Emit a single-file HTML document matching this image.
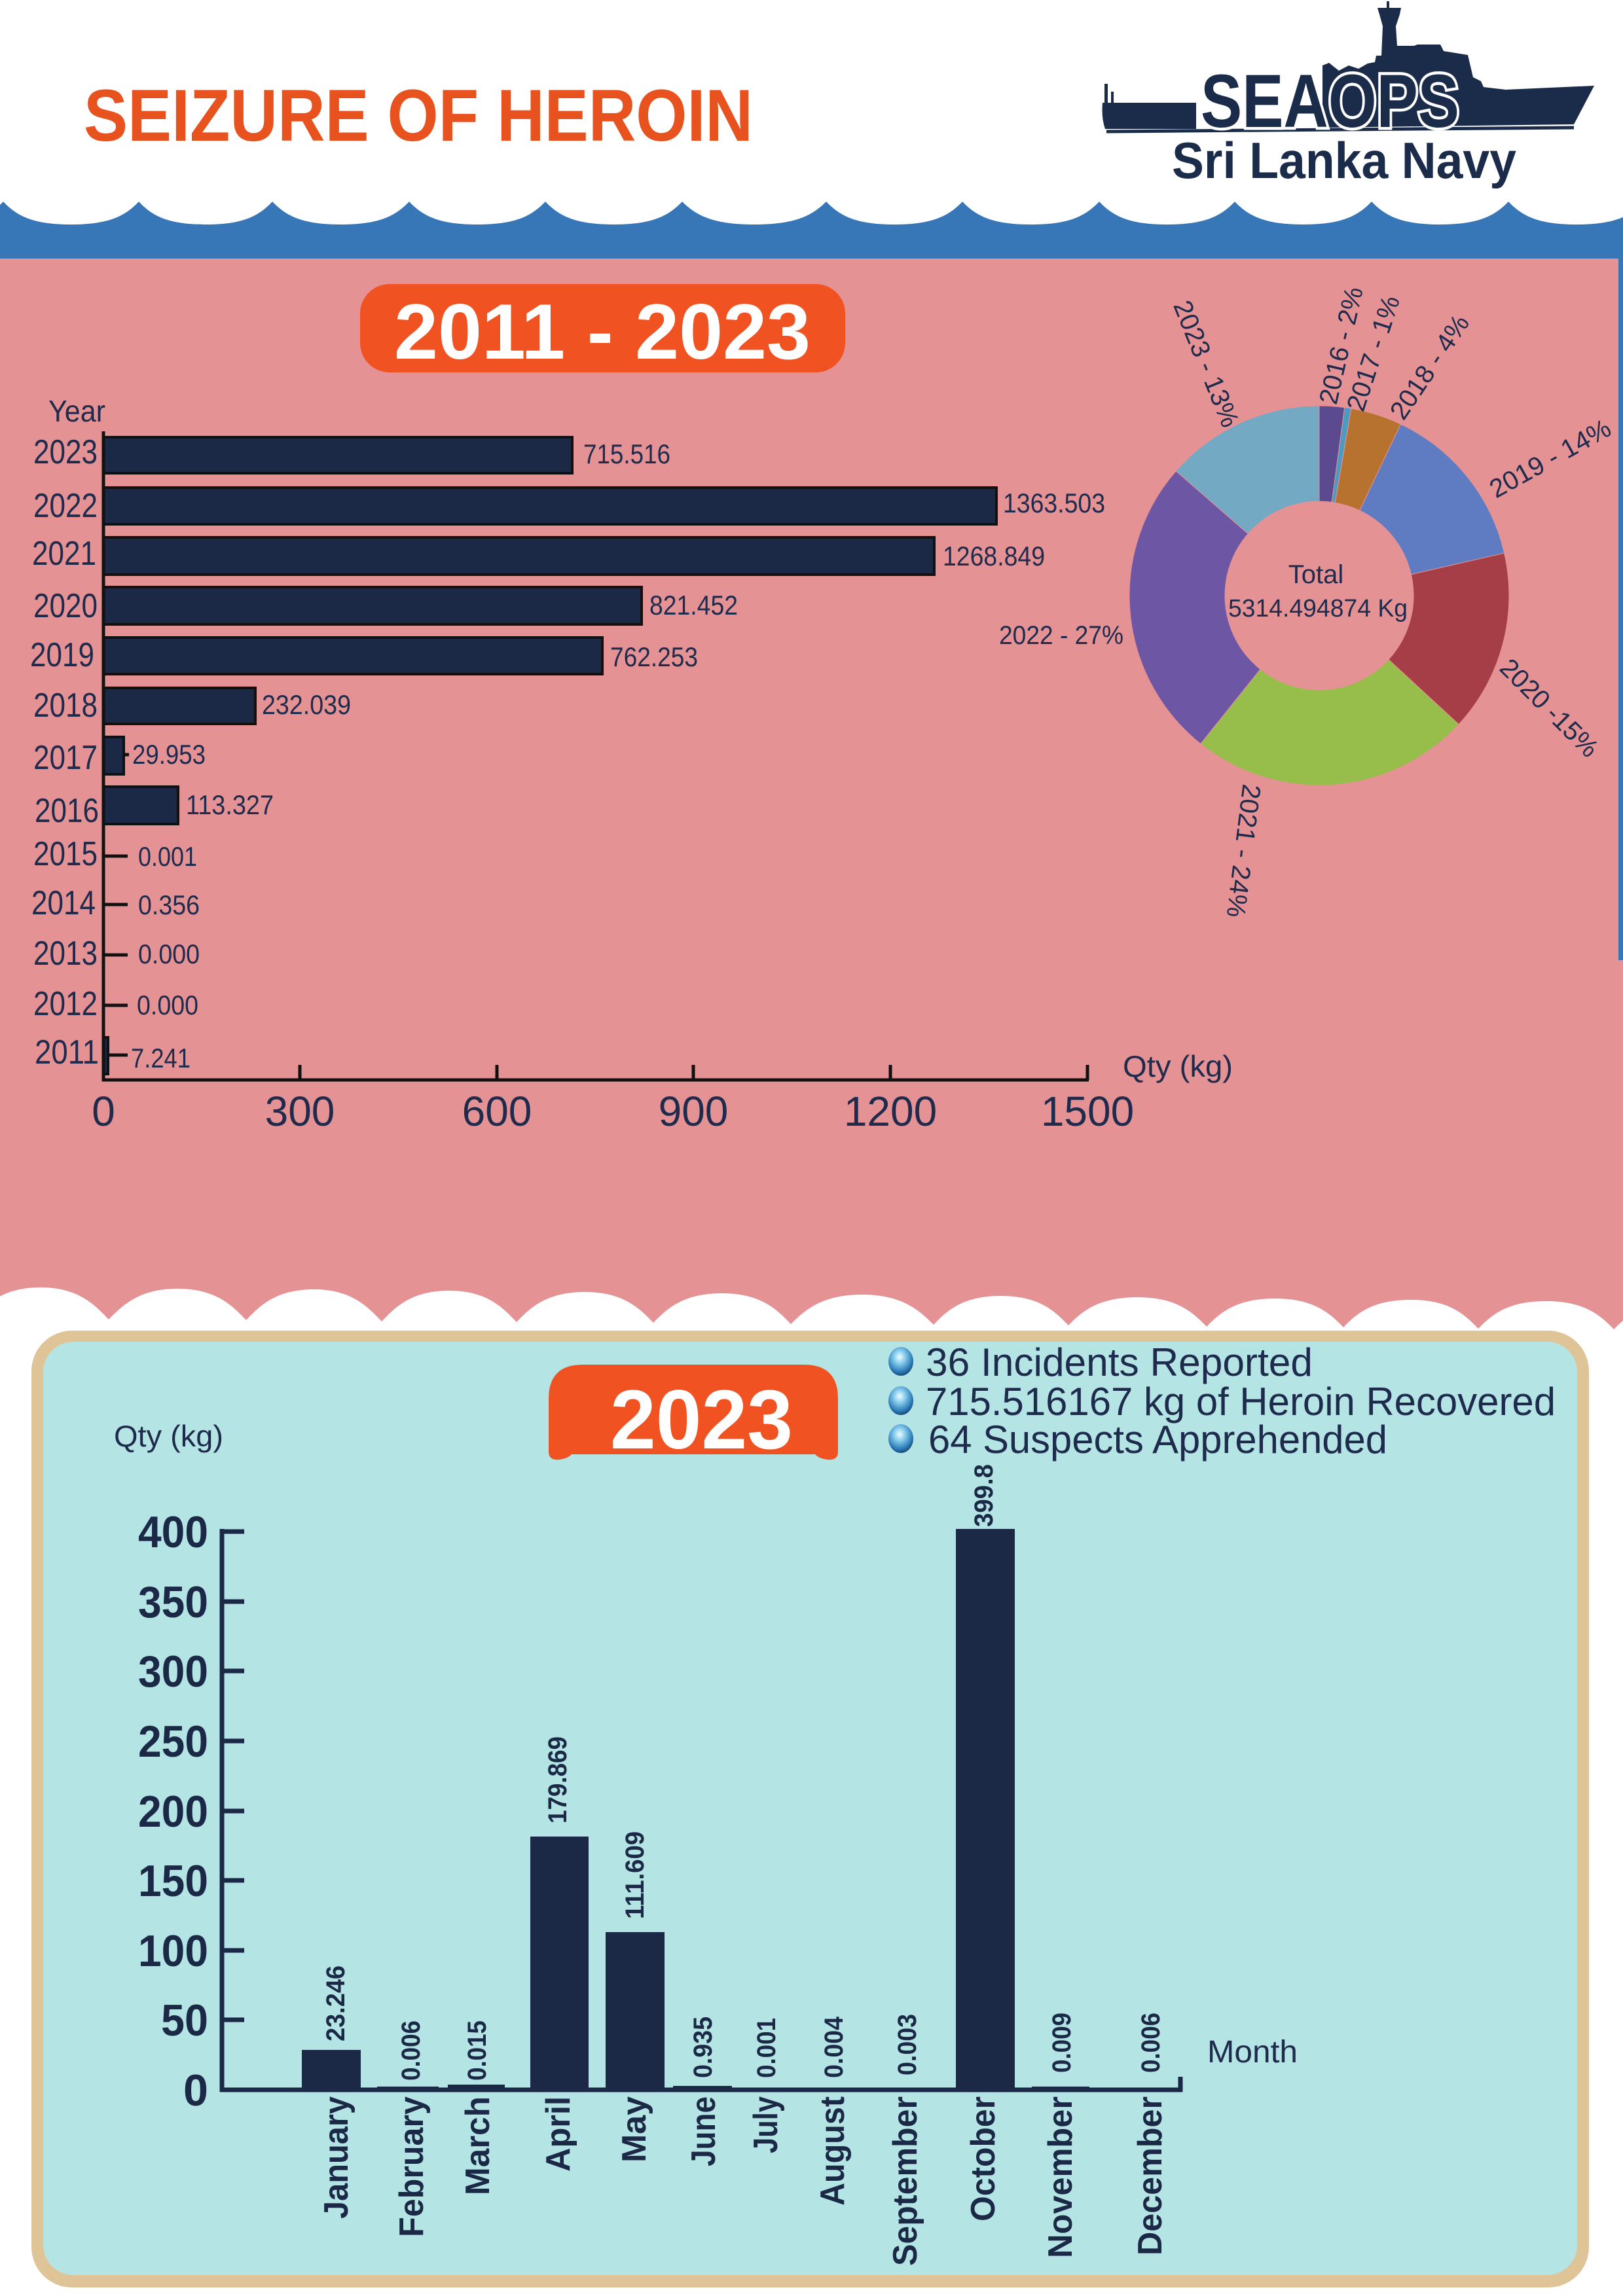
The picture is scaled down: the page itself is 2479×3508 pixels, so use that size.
<!DOCTYPE html>
<html><head><meta charset="utf-8"><style>html,body{margin:0;padding:0;background:#fff}svg{display:block}</style></head>
<body>
<svg xmlns="http://www.w3.org/2000/svg" width="2479" height="3508" viewBox="0 0 2479 3508" font-family="'Liberation Sans', sans-serif">
<defs>
<radialGradient id="bul" cx="45%" cy="35%" r="65%">
<stop offset="0" stop-color="#f2fdff"/><stop offset="0.35" stop-color="#86cdec"/><stop offset="0.8" stop-color="#2b79b6"/><stop offset="1" stop-color="#1b4775"/>
</radialGradient>
</defs>
<rect width="2479" height="3508" fill="#fff"/>
<!-- blue wave -->
<rect x="0" y="300" width="2479" height="95" fill="#3777b8"/>
<path fill="#fff" d="M-203,308 C-182.2,330 -157.2,343 -99,343 C-40.8,343 -15.8,330 5,308 C25.7,330 50.5,343 108.5,343 C166.5,343 191.3,330 212,308 C232.4,330 256.9,343 314,343 C371.1,343 395.6,330 416,308 C436.9,330 462,343 520.5,343 C579,343 604.1,330 625,308 C645.8,330 670.8,343 729,343 C787.2,343 812.2,330 833,308 C853.9,330 879,343 937.5,343 C996,343 1021.1,330 1042,308 C1064,330 1090.4,343 1152,343 C1213.6,343 1240,330 1262,308 C1282.8,330 1307.8,343 1366,343 C1424.2,343 1449.2,330 1470,308 C1490.9,330 1516,343 1574.5,343 C1633,343 1658.1,330 1679,308 C1699.7,330 1724.5,343 1782.5,343 C1840.5,343 1865.3,330 1886,308 C1906.9,330 1932,343 1990.5,343 C2049,343 2074.1,330 2095,308 C2115.9,330 2141,343 2199.5,343 C2258,343 2283.1,330 2304,308 C2324.8,330 2349.8,343 2408,343 C2466.2,343 2491.2,330 2512,308 L2512,0 L-203,0 Z"/>
<!-- header -->
<text x="128" y="215" font-size="112" font-weight="bold" fill="#e8521f" textLength="1022" lengthAdjust="spacingAndGlyphs">SEIZURE OF HEROIN</text>
<!-- logo ship -->
<g fill="#1b2c4b">
<path d="M1684,157 L1827,157 L1827,197 L1688,197 Q1682,180 1684,157 Z"/>
<rect x="1687" y="128" width="5" height="30"/>
<rect x="1697" y="140" width="4" height="18"/>
<path d="M2020,195 L2020,100 L2030,96 L2045,108 L2060,100 L2075,105 L2089,97 L2100,95 L2102,85 L2110,85 L2112,40 L2107,22 L2104,12 L2140,12 L2138,22 L2132,40 L2134,70 L2160,70 L2165,68 L2200,68 L2205,78 L2242,84 L2250,118 L2262,124 L2266,133 L2300,137 L2435,131 L2404,190 L2020,195 Z"/>
<rect x="2118" y="2" width="4" height="12"/>
</g>
<line x1="1690" y1="201" x2="2404" y2="195" stroke="#1b2c4b" stroke-width="5"/>
<text x="1834" y="194" font-size="115" font-weight="bold" fill="#1b2c4b" stroke="#fff" stroke-width="9" paint-order="stroke" textLength="395" lengthAdjust="spacingAndGlyphs">SEAOPS</text>
<text x="1790" y="272" font-size="78" font-weight="bold" fill="#1b2c4b" textLength="526" lengthAdjust="spacingAndGlyphs">Sri Lanka Navy</text>
<!-- pink section -->
<rect x="0" y="395" width="2479" height="1650" fill="#e49294"/>
<rect x="2472" y="395" width="7" height="1072" fill="#3777b8"/>
<path fill="#fff" d="M-42,2015 C-21,1993 4,1967 62,1967 C120,1967 145,1994 166,2016 C187,1995 212,1969 271,1969 C330,1969 355,1995 376,2017 C397,1995 421.5,1970 479.5,1970 C537.5,1970 562,1997 583,2019 C604,1997 628,1972 686,1972 C744,1972 768,1998 789,2020 C810,1998 835,1974 893.5,1974 C952,1974 977,1999 998,2021 C1019,1999 1044,1976 1103,1976 C1162,1976 1187,2001 1208,2023 C1230,2001 1256,1978 1317,1978 C1378,1978 1404,2002 1426,2024 C1447,2002 1471,1980 1529,1980 C1587,1980 1611,2003 1632,2025 C1653,2003 1678.5,1982 1737.5,1982 C1796.5,1982 1822,2005 1843,2027 C1864,2005 1889,1984 1947.5,1984 C2006,1984 2031,2006 2052,2028 C2073,2006 2097,1986 2155,1986 C2213,1986 2237,2008 2258,2030 C2279,2008 2303.5,1988 2361.5,1988 C2419.5,1988 2444,2009 2465,2031 C2486,2009 2511,1990 2570,1990 C2629,1990 2654,2010 2675,2032 L2675,2200 L-42,2200 Z"/>

<!-- title badge -->
<rect x="550" y="434" width="741" height="135" rx="45" fill="#f05321"/>
<text x="602" y="548" font-size="120" font-weight="bold" fill="#fff" textLength="636" lengthAdjust="spacingAndGlyphs">2011 - 2023</text>

<!-- horizontal bar chart -->
<g fill="#1f2b4d">
<text x="74" y="644" font-size="46" textLength="87" lengthAdjust="spacingAndGlyphs">Year</text>
<g font-size="52" text-anchor="end">
<text x="149" y="708" textLength="98" lengthAdjust="spacingAndGlyphs">2023</text>
<text x="149" y="790" textLength="98" lengthAdjust="spacingAndGlyphs">2022</text>
<text x="147" y="863" textLength="98" lengthAdjust="spacingAndGlyphs">2021</text>
<text x="149" y="943" textLength="98" lengthAdjust="spacingAndGlyphs">2020</text>
<text x="144" y="1018" textLength="98" lengthAdjust="spacingAndGlyphs">2019</text>
<text x="149" y="1095" textLength="98" lengthAdjust="spacingAndGlyphs">2018</text>
<text x="149" y="1175" textLength="98" lengthAdjust="spacingAndGlyphs">2017</text>
<text x="151" y="1256" textLength="98" lengthAdjust="spacingAndGlyphs">2016</text>
<text x="149" y="1322" textLength="98" lengthAdjust="spacingAndGlyphs">2015</text>
<text x="146" y="1397" textLength="98" lengthAdjust="spacingAndGlyphs">2014</text>
<text x="149" y="1474" textLength="98" lengthAdjust="spacingAndGlyphs">2013</text>
<text x="149" y="1551" textLength="98" lengthAdjust="spacingAndGlyphs">2012</text>
<text x="151" y="1625" textLength="98" lengthAdjust="spacingAndGlyphs">2011</text>
</g>
<g font-size="42">
<text x="891" y="708" textLength="133" lengthAdjust="spacingAndGlyphs">715.516</text>
<text x="1532" y="783" textLength="156" lengthAdjust="spacingAndGlyphs">1363.503</text>
<text x="1440" y="864" textLength="156" lengthAdjust="spacingAndGlyphs">1268.849</text>
<text x="992" y="939" textLength="135" lengthAdjust="spacingAndGlyphs">821.452</text>
<text x="932" y="1018" textLength="134" lengthAdjust="spacingAndGlyphs">762.253</text>
<text x="400" y="1091" textLength="136" lengthAdjust="spacingAndGlyphs">232.039</text>
<text x="202" y="1167" textLength="112" lengthAdjust="spacingAndGlyphs">29.953</text>
<text x="284" y="1244" textLength="134" lengthAdjust="spacingAndGlyphs">113.327</text>
<text x="211" y="1323" textLength="90" lengthAdjust="spacingAndGlyphs">0.001</text>
<text x="211" y="1397" textLength="94" lengthAdjust="spacingAndGlyphs">0.356</text>
<text x="211" y="1472" textLength="94" lengthAdjust="spacingAndGlyphs">0.000</text>
<text x="209" y="1550" textLength="94" lengthAdjust="spacingAndGlyphs">0.000</text>
<text x="200" y="1631" textLength="91" lengthAdjust="spacingAndGlyphs">7.241</text>
</g>
<g font-size="64" text-anchor="middle">
<text x="158" y="1720">0</text>
<text x="458" y="1720">300</text>
<text x="759" y="1720">600</text>
<text x="1059" y="1720">900</text>
<text x="1360" y="1720">1200</text>
<text x="1661" y="1720">1500</text>
</g>
<text x="1715" y="1645" font-size="46" textLength="168" lengthAdjust="spacingAndGlyphs">Qty (kg)</text>
</g>
<g fill="#1b2946" stroke="#111" stroke-width="4">
<rect x="158" y="668" width="716" height="55"/>
<rect x="158" y="745" width="1364" height="56"/>
<rect x="158" y="821" width="1269" height="57"/>
<rect x="158" y="897" width="822" height="57"/>
<rect x="158" y="974" width="762" height="56"/>
<rect x="158" y="1051" width="232" height="55"/>
<rect x="158" y="1126" width="31" height="57"/>
<rect x="158" y="1202" width="114" height="57"/>
<rect x="158" y="1585" width="7" height="56"/>
</g>
<g stroke="#111" stroke-width="5">
<line x1="158" y1="659" x2="158" y2="1652"/>
<line x1="156" y1="1650" x2="1663" y2="1650"/>
<line x1="458" y1="1627" x2="458" y2="1650"/>
<line x1="759" y1="1627" x2="759" y2="1650"/>
<line x1="1059" y1="1627" x2="1059" y2="1650"/>
<line x1="1360" y1="1627" x2="1360" y2="1650"/>
<line x1="1661" y1="1627" x2="1661" y2="1650"/>
<line x1="158" y1="1308" x2="195" y2="1308"/>
<line x1="158" y1="1382" x2="195" y2="1382"/>
<line x1="158" y1="1459" x2="195" y2="1459"/>
<line x1="158" y1="1536" x2="195" y2="1536"/>
<line x1="165" y1="1612" x2="195" y2="1612"/>
<line x1="189" y1="1153" x2="197" y2="1153"/>
</g>

<!-- donut -->
<g stroke="#e49294" stroke-width="1">
<path fill="#5b4a8f" d="M2015,620 A290,290 0 0 1 2053.74,622.60 L2034.24,767.29 A144,144 0 0 0 2015,766 Z"/>
<path fill="#4c9bc0" d="M2053.74,622.60 A290,290 0 0 1 2063.89,624.15 L2039.28,768.06 A144,144 0 0 0 2034.24,767.29 Z"/>
<path fill="#b8722f" d="M2063.89,624.15 A290,290 0 0 1 2139.50,648.08 L2076.82,779.94 A144,144 0 0 0 2039.28,768.06 Z"/>
<path fill="#5f7cc2" d="M2139.50,648.08 A290,290 0 0 1 2297.63,845.05 L2155.34,877.75 A144,144 0 0 0 2076.82,779.94 Z"/>
<path fill="#a53e47" d="M2297.63,845.05 A290,290 0 0 1 2228.10,1106.69 L2120.82,1007.67 A144,144 0 0 0 2155.34,877.75 Z"/>
<path fill="#97bd4a" d="M2228.10,1106.69 A290,290 0 0 1 1833.84,1136.48 L1925.05,1022.46 A144,144 0 0 0 2120.82,1007.67 Z"/>
<path fill="#6d57a4" d="M1833.84,1136.48 A290,290 0 0 1 1796.20,719.67 L1906.35,815.49 A144,144 0 0 0 1925.05,1022.46 Z"/>
<path fill="#74a9c4" d="M1796.20,719.67 A290,290 0 0 1 2015,620 L2015,766 A144,144 0 0 0 1906.35,815.49 Z"/>
</g>
<g fill="#1f2b4d" font-size="40">
<text x="2010" y="891" text-anchor="middle">Total</text>
<text x="1876" y="942" font-size="38" textLength="274" lengthAdjust="spacingAndGlyphs">5314.494874 Kg</text>
<text x="1526" y="984" textLength="190" lengthAdjust="spacingAndGlyphs">2022 - 27%</text>
<g text-anchor="middle" dominant-baseline="central">
<text transform="translate(2049,528) rotate(-77)">2016 - 2%</text>
<text transform="translate(2098,540) rotate(-72)">2017 - 1%</text>
<text transform="translate(2184,561) rotate(-56)">2018 - 4%</text>
<text transform="translate(2368,701) rotate(-29)">2019 - 14%</text>
<text transform="translate(2366,1082) rotate(45)">2020 -15%</text>
<text transform="translate(1899,1300) rotate(97)">2021 - 24%</text>
<text transform="translate(1842,556) rotate(68)">2023 - 13%</text>
</g>
</g>

<!-- bottom panel -->
<rect x="48" y="2033" width="2379" height="1462" rx="62" fill="#dfc498"/>
<rect x="66" y="2050" width="2343" height="1426" rx="46" fill="#b4e4e4"/>
<path fill="#f05321" d="M890,2085 H1228 Q1280,2085 1280,2137 V2218 Q1280,2232 1263,2230 Q1250,2228 1245,2222 H873 Q868,2228 855,2230 Q838,2232 838,2218 V2137 Q838,2085 890,2085 Z"/>
<text x="932" y="2213" font-size="128" font-weight="bold" fill="#fff" textLength="279" lengthAdjust="spacingAndGlyphs">2023</text>
<g fill="url(#bul)">
<ellipse cx="1376" cy="2080" rx="19" ry="22"/>
<ellipse cx="1376" cy="2140" rx="19" ry="22"/>
<ellipse cx="1376" cy="2198" rx="19" ry="22"/>
</g>
<g fill="#1f2b4d" font-size="60">
<text x="1414" y="2102" textLength="591" lengthAdjust="spacingAndGlyphs">36 Incidents Reported</text>
<text x="1414" y="2162" textLength="962" lengthAdjust="spacingAndGlyphs">715.516167 kg of Heroin Recovered</text>
<text x="1418" y="2220" textLength="701" lengthAdjust="spacingAndGlyphs">64 Suspects Apprehended</text>
<text x="174" y="2210" font-size="46" textLength="167" lengthAdjust="spacingAndGlyphs">Qty (kg)</text>
<text x="1844" y="3151" font-size="48" textLength="138" lengthAdjust="spacingAndGlyphs">Month</text>
</g>
<!-- monthly bars -->
<g fill="#1b2946">
<rect x="461" y="3132" width="90" height="61"/>
<rect x="576" y="3188" width="94" height="5"/>
<rect x="684" y="3185" width="87" height="8"/>
<rect x="810" y="2806" width="89" height="387"/>
<rect x="925" y="2952" width="90" height="241"/>
<rect x="1028" y="3187" width="90" height="6"/>
<rect x="1460" y="2336" width="90" height="857"/>
<rect x="1576" y="3188" width="88" height="5"/>
</g>
<g stroke="#1b2946" stroke-width="7">
<line x1="339" y1="2336" x2="339" y2="3196"/>
<line x1="336" y1="3193" x2="1806" y2="3193"/>
<line x1="1803" y1="3173" x2="1803" y2="3196"/>
<line x1="339" y1="2340" x2="373" y2="2340"/>
<line x1="339" y1="2447" x2="373" y2="2447"/>
<line x1="339" y1="2553" x2="373" y2="2553"/>
<line x1="339" y1="2660" x2="373" y2="2660"/>
<line x1="339" y1="2767" x2="373" y2="2767"/>
<line x1="339" y1="2873" x2="373" y2="2873"/>
<line x1="339" y1="2980" x2="373" y2="2980"/>
<line x1="339" y1="3086" x2="373" y2="3086"/>
</g>
<g fill="#1b2946" font-size="68" font-weight="bold" text-anchor="end">
<text x="318" y="3217" textLength="38" lengthAdjust="spacingAndGlyphs">0</text>
<text x="318" y="3110" textLength="72" lengthAdjust="spacingAndGlyphs">50</text>
<text x="318" y="3004" textLength="107" lengthAdjust="spacingAndGlyphs">100</text>
<text x="318" y="2897" textLength="107" lengthAdjust="spacingAndGlyphs">150</text>
<text x="318" y="2791" textLength="107" lengthAdjust="spacingAndGlyphs">200</text>
<text x="318" y="2684" textLength="107" lengthAdjust="spacingAndGlyphs">250</text>
<text x="318" y="2577" textLength="107" lengthAdjust="spacingAndGlyphs">300</text>
<text x="318" y="2471" textLength="107" lengthAdjust="spacingAndGlyphs">350</text>
<text x="318" y="2364" textLength="107" lengthAdjust="spacingAndGlyphs">400</text>
</g>
<g fill="#1b2946" font-size="52" font-weight="bold" text-anchor="end">
<text transform="translate(531,3203) rotate(-90)" textLength="187" lengthAdjust="spacingAndGlyphs">January</text>
<text transform="translate(646,3203) rotate(-90)" textLength="215" lengthAdjust="spacingAndGlyphs">February</text>
<text transform="translate(747,3203) rotate(-90)" textLength="151" lengthAdjust="spacingAndGlyphs">March</text>
<text transform="translate(870,3203) rotate(-90)" textLength="115" lengthAdjust="spacingAndGlyphs">April</text>
<text transform="translate(986,3203) rotate(-90)" textLength="101" lengthAdjust="spacingAndGlyphs">May</text>
<text transform="translate(1092,3203) rotate(-90)" textLength="107" lengthAdjust="spacingAndGlyphs">June</text>
<text transform="translate(1187,3203) rotate(-90)" textLength="87" lengthAdjust="spacingAndGlyphs">July</text>
<text transform="translate(1289,3203) rotate(-90)" textLength="167" lengthAdjust="spacingAndGlyphs">August</text>
<text transform="translate(1400,3203) rotate(-90)" textLength="259" lengthAdjust="spacingAndGlyphs">September</text>
<text transform="translate(1519,3203) rotate(-90)" textLength="191" lengthAdjust="spacingAndGlyphs">October</text>
<text transform="translate(1637,3203) rotate(-90)" textLength="247" lengthAdjust="spacingAndGlyphs">November</text>
<text transform="translate(1774,3203) rotate(-90)" textLength="243" lengthAdjust="spacingAndGlyphs">December</text>
</g>
<g fill="#1b2946" font-size="40" font-weight="bold">
<text transform="translate(526,3119) rotate(-90)" textLength="116" lengthAdjust="spacingAndGlyphs">23.246</text>
<text transform="translate(641,3179) rotate(-90)" textLength="92" lengthAdjust="spacingAndGlyphs">0.006</text>
<text transform="translate(742,3179) rotate(-90)" textLength="92" lengthAdjust="spacingAndGlyphs">0.015</text>
<text transform="translate(865,2786) rotate(-90)" textLength="133" lengthAdjust="spacingAndGlyphs">179.869</text>
<text transform="translate(983,2932) rotate(-90)" textLength="134" lengthAdjust="spacingAndGlyphs">111.609</text>
<text transform="translate(1087,3175) rotate(-90)" textLength="94" lengthAdjust="spacingAndGlyphs">0.935</text>
<text transform="translate(1184,3175) rotate(-90)" textLength="92" lengthAdjust="spacingAndGlyphs">0.001</text>
<text transform="translate(1287,3175) rotate(-90)" textLength="94" lengthAdjust="spacingAndGlyphs">0.004</text>
<text transform="translate(1399,3171) rotate(-90)" textLength="94" lengthAdjust="spacingAndGlyphs">0.003</text>
<text transform="translate(1516,2333) rotate(-90)" textLength="96" lengthAdjust="spacingAndGlyphs">399.8</text>
<text transform="translate(1635,3167) rotate(-90)" textLength="92" lengthAdjust="spacingAndGlyphs">0.009</text>
<text transform="translate(1771,3167) rotate(-90)" textLength="92" lengthAdjust="spacingAndGlyphs">0.006</text>
</g>
</svg>
</body></html>
